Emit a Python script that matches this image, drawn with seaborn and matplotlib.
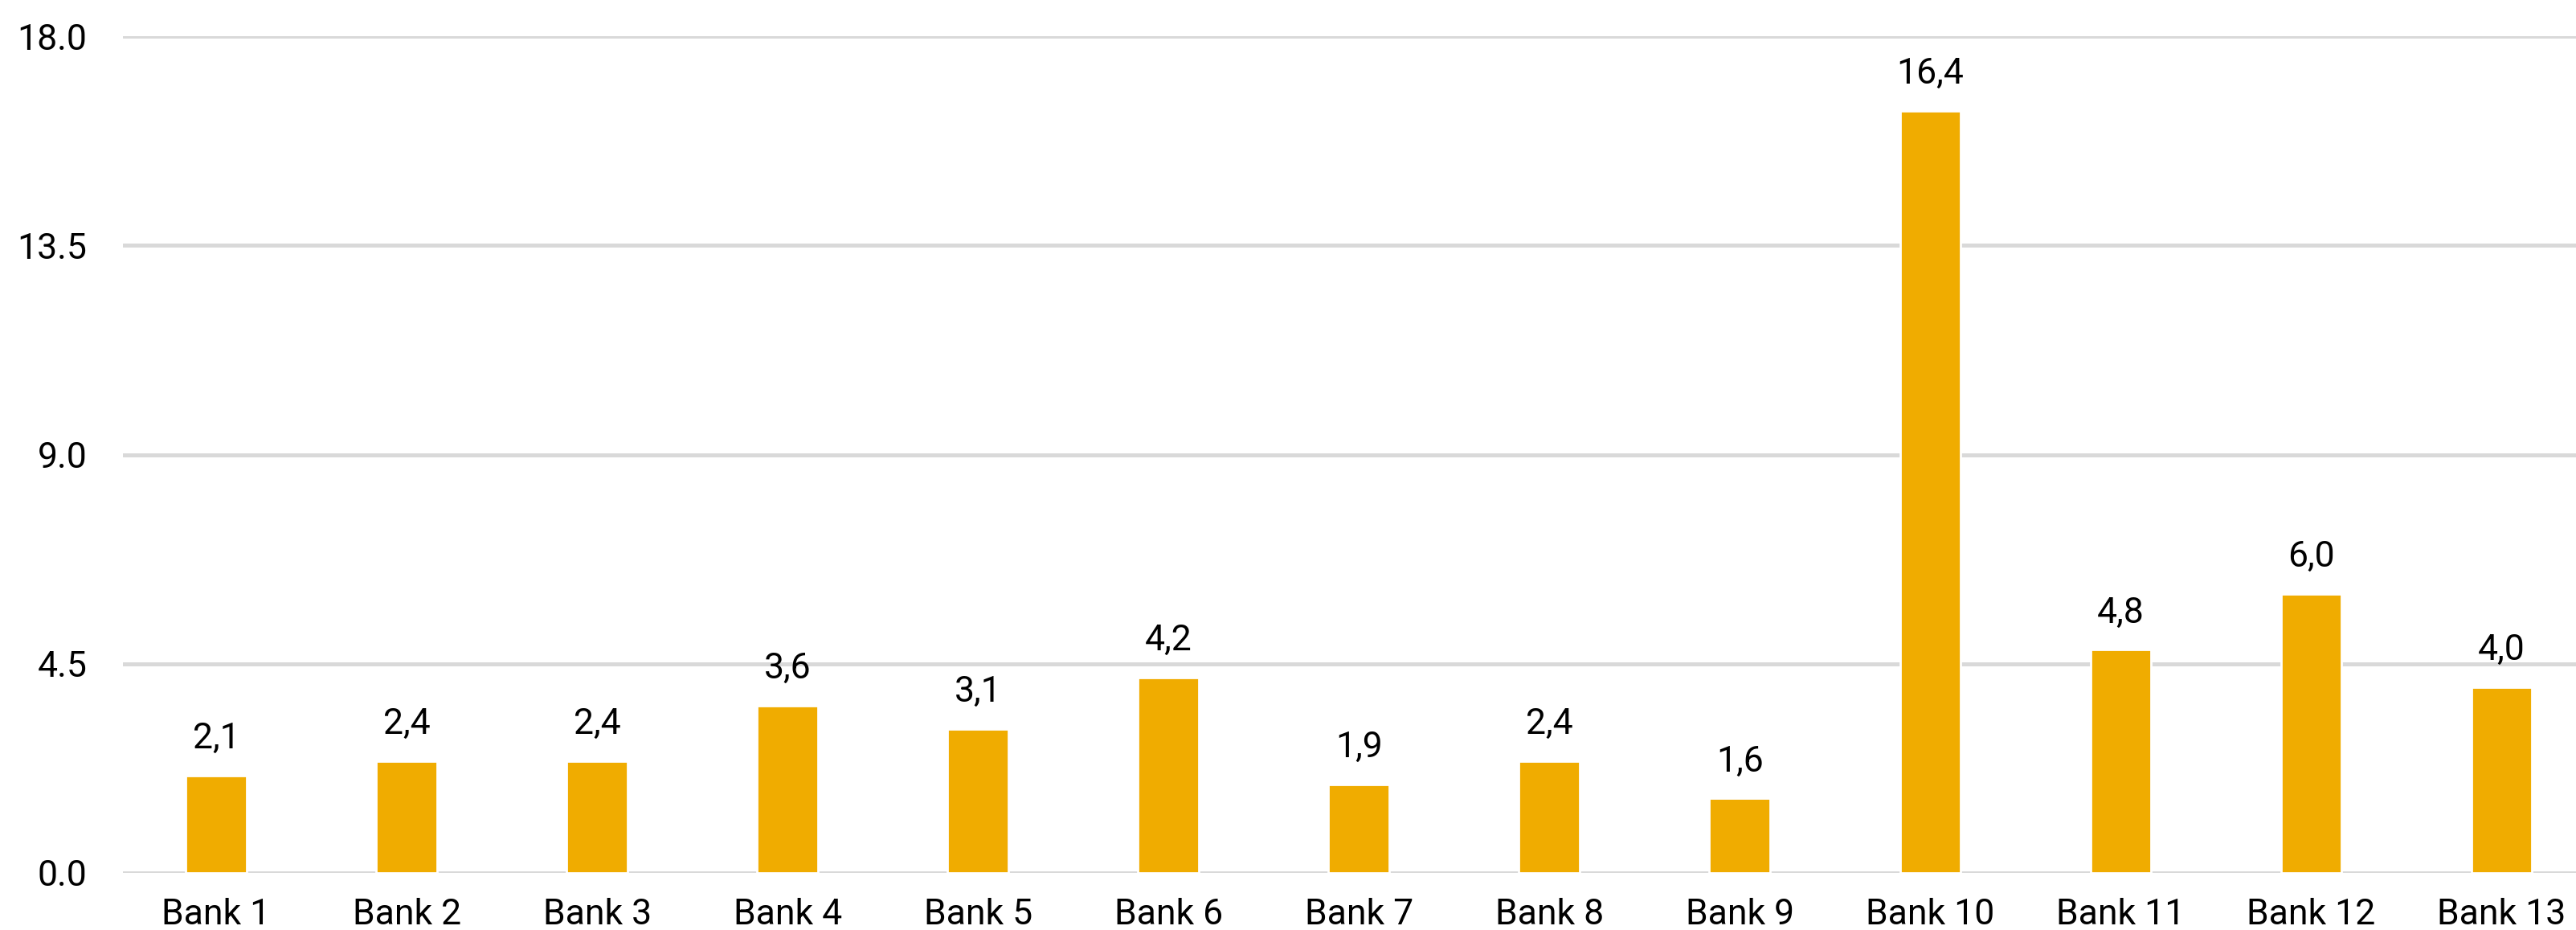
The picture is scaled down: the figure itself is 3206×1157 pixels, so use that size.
import matplotlib
matplotlib.use("Agg")
import matplotlib.pyplot as plt
import seaborn as sns
import pandas as pd

# Data
banks = ["Bank 1", "Bank 2", "Bank 3", "Bank 4", "Bank 5", "Bank 6", "Bank 7",
         "Bank 8", "Bank 9", "Bank 10", "Bank 11", "Bank 12", "Bank 13"]
values = [2.1, 2.4, 2.4, 3.6, 3.1, 4.2, 1.9, 2.4, 1.6, 16.4, 4.8, 6.0, 4.0]
y_ticks = [0.0, 4.5, 9.0, 13.5, 18.0]

df = pd.DataFrame({"bank": banks, "value": values})

sns.set_theme(style="white")
plt.rcParams["font.family"] = ["Roboto", "DejaVu Sans"]

fig = plt.figure(figsize=(16.03, 5.785), dpi=200)
ax = fig.add_axes([0.0477, 0.0614, 0.9523, 0.8996])

sns.barplot(data=df, x="bank", y="value", color="#F0AC00", saturation=1,
            width=0.32, ax=ax, zorder=3)

# value labels with comma decimals
ax.bar_label(ax.containers[0], labels=[f"{v:.1f}".replace(".", ",") for v in values],
             padding=9, fontsize=16, color="black")

ax.set_ylim(0, 18)
ax.set_xlim(-0.49, 12.39)
ax.set_yticks(y_ticks)
ax.set_yticklabels([f"{t:.1f}" for t in y_ticks])
ax.yaxis.grid(True, color="#d9d9d9", linewidth=1.8, zorder=0)
ax.set_axisbelow(True)
for s in ax.spines.values():
    s.set_visible(False)
ax.tick_params(axis="y", length=0, pad=16, labelsize=16, labelcolor="black")
ax.tick_params(axis="x", length=0, pad=11, labelsize=16, labelcolor="black")
ax.set_xlabel("")
ax.set_ylabel("")

fig.savefig("out.png", dpi=200)
